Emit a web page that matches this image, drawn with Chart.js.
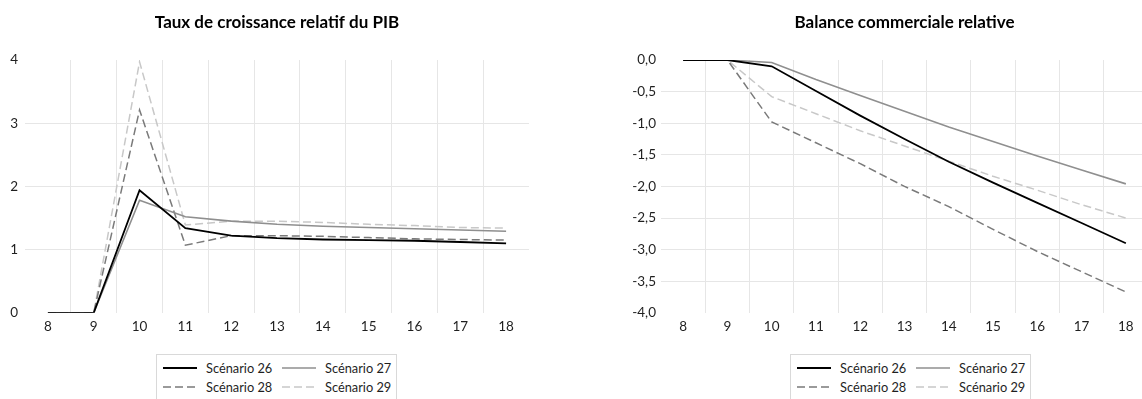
<!DOCTYPE html>
<html>
<head>
<meta charset="utf-8">
<script src="https://cdn.jsdelivr.net/npm/chart.js@4"></script>
<style>
  html, body { margin: 0; padding: 0; background: #fff; overflow: hidden; }
  body { width: 1142px; height: 399px; position: relative; font-family: Lato, sans-serif; }
  .box { position: absolute; top: 0; height: 345px; }
  #leftBox { left: 0; width: 571px; }
  #rightBox { left: 571px; width: 577px; }
  .legend {
    position: absolute; top: 354px; width: 241px; height: 50px;
    border: 1px solid #d9d9d9; box-sizing: border-box;
    display: grid; grid-template-columns: 119px 119px; grid-auto-rows: 19px;
    padding: 3px 0 0 6px; font-size: 12.8px; color: #1f1f1f;
  }
  .legend .item { display: flex; align-items: center; white-space: nowrap; }
  .legend svg { margin-right: 9px; }
  #leftLegend { left: 156px; }
  #rightLegend { left: 790px; }
</style>
</head>
<body>
<div class="box" id="leftBox"><canvas id="pibChart"></canvas></div>
<div class="box" id="rightBox"><canvas id="balChart"></canvas></div>
<div class="legend" id="leftLegend"></div>
<div class="legend" id="rightLegend"></div>
<script>
// Données
const years = ['8', '9', '10', '11', '12', '13', '14', '15', '16', '17', '18'];
const seriesNames = ['Scénario 26', 'Scénario 27', 'Scénario 28', 'Scénario 29'];

// Taux de croissance relatif du PIB
const pib26 = [0, 0, 1.94, 1.34, 1.22, 1.18, 1.16, 1.15, 1.14, 1.12, 1.10];
const pib27 = [0, 0, 1.78, 1.52, 1.45, 1.40, 1.37, 1.35, 1.33, 1.31, 1.29];
const pib28 = [0, 0, 3.21, 1.07, 1.22, 1.22, 1.21, 1.19, 1.17, 1.16, 1.15];
const pib29 = [0, 0, 3.97, 1.39, 1.45, 1.45, 1.43, 1.40, 1.38, 1.35, 1.34];

// Balance commerciale relative
const bal26 = [0, 0, -0.10, -0.49, -0.88, -1.25, -1.61, -1.94, -2.26, -2.58, -2.90];
const bal27 = [0, 0, -0.04, -0.31, -0.56, -0.81, -1.06, -1.29, -1.52, -1.74, -1.96];
const bal28 = [0, 0, -0.98, -1.31, -1.64, -2.00, -2.32, -2.68, -3.03, -3.35, -3.67];
const bal29 = [0, 0, -0.58, -0.85, -1.12, -1.36, -1.60, -1.84, -2.06, -2.29, -2.50];

const styles = [
    { color: '#000000', dash: [], width: 1.8 },
    { color: '#8f8f8f', dash: [], width: 1.6 },
    { color: '#7a7a7a', dash: [8, 4], width: 1.5 },
    { color: '#c8c8c8', dash: [8, 4], width: 1.5 }
];

const gridColor = '#e6e6e6';
const textColor = '#1f1f1f';

function makeDatasets(list) {
    return list.map((data, i) => ({
        label: seriesNames[i],
        data: data,
        borderColor: styles[i].color,
        borderDash: styles[i].dash,
        borderWidth: styles[i].width,
        pointRadius: 0,
        tension: 0,
        fill: false
    }));
}

function makeChart(id, title, datasets, yOpts, yWidth, padRight) {
    const ctx = document.getElementById(id).getContext('2d');
    return new Chart(ctx, {
        type: 'line',
        data: { labels: years, datasets: datasets },
        options: {
            responsive: true,
            maintainAspectRatio: false,
            animation: false,
            layout: { padding: { top: 0, left: 0, right: padRight, bottom: 4 } },
            plugins: {
                legend: { display: false },
                tooltip: { enabled: false },
                title: {
                    display: true,
                    text: title,
                    fullSize: false,
                    color: '#000',
                    font: { family: 'Lato', size: 17, weight: 'bold' },
                    padding: { top: 12, bottom: 27.6 }
                }
            },
            scales: {
                x: {
                    offset: true,
                    border: { display: false },
                    grid: {
                        offset: true,
                        drawTicks: false,
                        color: c => (c.type === 'tick' && c.index > 0) ? gridColor : 'rgba(0,0,0,0)'
                    },
                    ticks: { color: textColor, padding: 6, font: { family: 'Lato', size: 13.5 }, maxRotation: 0 }
                },
                y: Object.assign({
                    border: { display: false },
                    afterFit: s => { s.width = yWidth; },
                    grid: {
                        drawTicks: false,
                        color: c => (c.index > 0 && c.index < c.scale.ticks.length - 1) ? gridColor : 'rgba(0,0,0,0)'
                    }
                }, yOpts)
            }
        }
    });
}

function buildLegend(elId) {
    const el = document.getElementById(elId);
    seriesNames.forEach((name, i) => {
        const s = styles[i];
        const item = document.createElement('div');
        item.className = 'item';
        item.innerHTML = `<svg width="34" height="4"><line x1="0" y1="2" x2="34" y2="2" stroke="${s.color}" stroke-width="${s.width}" stroke-dasharray="${s.dash.join(',')}"/></svg><span>${name}</span>`;
        el.appendChild(item);
    });
}

makeChart('pibChart', 'Taux de croissance relatif du PIB',
    makeDatasets([pib26, pib27, pib28, pib29]),
    {
        min: 0, max: 4,
        ticks: { stepSize: 1, color: textColor, padding: 7, font: { family: 'Lato', size: 13.5 } }
    }, 25, 42);

makeChart('balChart', 'Balance commerciale relative',
    makeDatasets([bal26, bal27, bal28, bal29]),
    {
        min: -4, max: 0,
        ticks: {
            stepSize: 0.5, color: textColor, padding: 5, font: { family: 'Lato', size: 13.5 },
            callback: v => v.toFixed(1).replace('.', ',')
        }
    }, 90, 0);

buildLegend('leftLegend');
buildLegend('rightLegend');
</script>
</body>
</html>
